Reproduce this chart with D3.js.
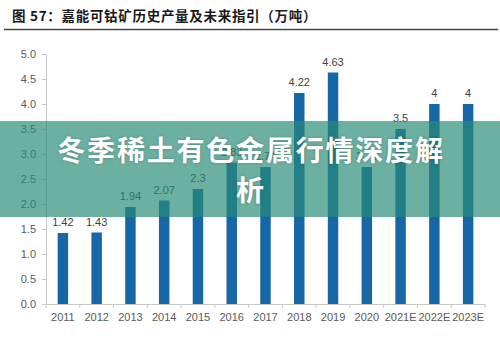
<!DOCTYPE html>
<html>
<head>
<meta charset="utf-8">
<script src="https://cdn.jsdelivr.net/npm/d3@7"></script>
<style>
  body { margin: 0; background: #fff; }
  svg { display: block; font-family: "Liberation Sans", Arial, sans-serif; }
</style>
</head>
<body>
<div id="chart"></div>
<script>
const years = ["2011", "2012", "2013", "2014", "2015", "2016", "2017", "2018", "2019", "2020", "2021E", "2022E", "2023E"];
const output = [1.42, 1.43, 1.94, 2.07, 2.3, 2.83, 2.74, 4.22, 4.63, 2.74, 3.5, 4, 4];
const yTicks = [0, 0.5, 1, 1.5, 2, 2.5, 3, 3.5, 4, 4.5, 5];

const chartTitle = "图 57：嘉能可钴矿历史产量及未来指引（万吨）";
const bannerLines = ["冬季稀土有色金属行情深度解", "析"];

const W = 500, H = 340;
const margin = { top: 54, right: 15, bottom: 36, left: 46 };
const width = W - margin.left - margin.right;
const height = H - margin.top - margin.bottom;

const svg = d3.select("#chart").append("svg")
    .attr("width", W)
    .attr("height", H);

// heading
svg.append("text")
    .attr("x", 12)
    .attr("y", 21)
    .attr("font-family", "'Noto Sans CJK SC', sans-serif")
    .attr("font-weight", "bold")
    .attr("font-size", 13.5)
    .attr("letter-spacing", 0.7)
    .attr("fill", "#1a1a1a")
    .text(chartTitle);

svg.append("line")
    .attr("x1", 4).attr("x2", 498)
    .attr("y1", 29.5).attr("y2", 29.5)
    .attr("stroke", "#444")
    .attr("stroke-width", 1.5);

const g = svg.append("g")
    .attr("transform", `translate(${margin.left},${margin.top})`);

const x = d3.scaleBand()
    .domain(years)
    .range([0, width])
    .paddingInner(0.69)
    .paddingOuter(0.345);

const y = d3.scaleLinear()
    .domain([0, 5])
    .range([height, 0]);

// y axis
const yAxis = g.append("g")
    .call(d3.axisLeft(y).tickValues(yTicks).tickFormat(d3.format(".1f")).tickSize(4).tickPadding(6));
yAxis.select(".domain").attr("stroke", "#c8c8c8");
yAxis.selectAll(".tick line").attr("stroke", "#c8c8c8");
yAxis.selectAll("text").attr("fill", "#595959").attr("font-size", 11);

// x axis with ticks on band edges
const xAxis = g.append("g")
    .attr("transform", `translate(0,${height})`)
    .call(d3.axisBottom(x).tickSize(0).tickPadding(9));
xAxis.select(".domain").attr("stroke", "#c8c8c8");
xAxis.selectAll("text").attr("fill", "#595959").attr("font-size", 11);

const step = x.step();
g.append("g")
    .selectAll("line")
    .data(d3.range(years.length + 1))
    .join("line")
    .attr("x1", i => i * step)
    .attr("x2", i => i * step)
    .attr("y1", height)
    .attr("y2", height + 4)
    .attr("stroke", "#c8c8c8");

// bars
g.selectAll(".bar")
    .data(output)
    .join("rect")
    .attr("class", "bar")
    .attr("x", (d, i) => x(years[i]))
    .attr("y", d => y(d))
    .attr("width", x.bandwidth())
    .attr("height", d => height - y(d))
    .attr("fill", "#1767a6");

// value labels
g.selectAll(".val")
    .data(output)
    .join("text")
    .attr("class", "val")
    .attr("x", (d, i) => x(years[i]) + x.bandwidth() / 2)
    .attr("y", d => y(d) - 7)
    .attr("text-anchor", "middle")
    .attr("font-size", 11)
    .attr("fill", "#404040")
    .text(d => d);

// translucent banner across the middle
svg.append("rect")
    .attr("x", 0).attr("y", 121)
    .attr("width", W).attr("height", 96)
    .attr("fill", "rgb(38,138,118)")
    .attr("opacity", 0.68);

svg.append("g")
    .selectAll("text")
    .data(bannerLines)
    .join("text")
    .attr("x", 251)
    .attr("y", (d, i) => 161 + i * 40)
    .attr("text-anchor", "middle")
    .attr("font-family", "'Noto Sans CJK SC', sans-serif")
    .attr("font-weight", "bold")
    .attr("font-size", 28)
    .attr("letter-spacing", 1.8)
    .attr("fill", "#fff")
    .style("text-shadow", "0 0 3px rgba(0,0,0,0.25)")
    .text(d => d);
</script>
</body>
</html>
